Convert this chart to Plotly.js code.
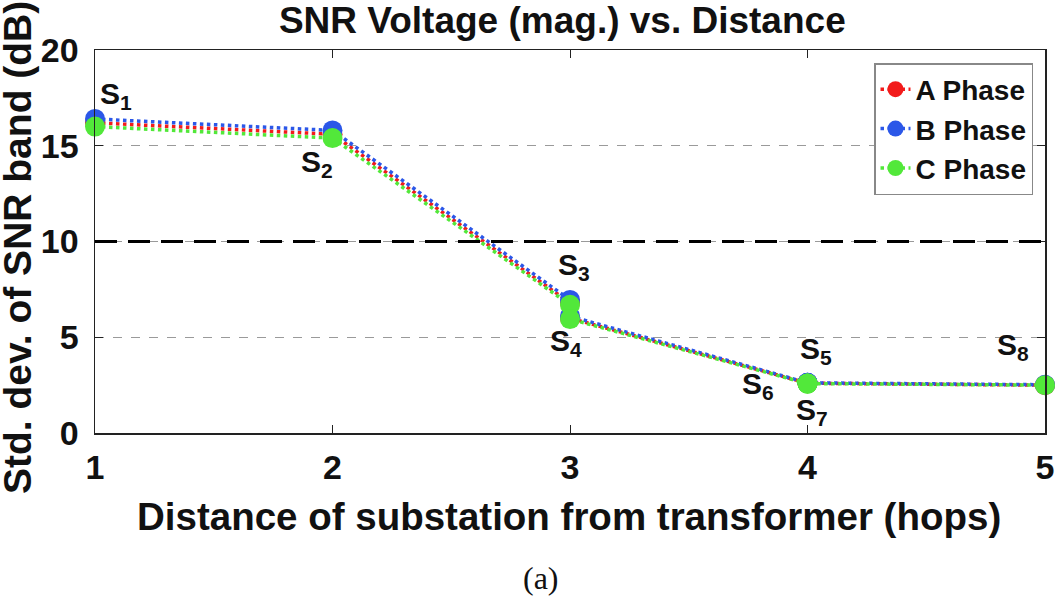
<!DOCTYPE html>
<html>
<head>
<meta charset="utf-8">
<script src="https://cdn.plot.ly/plotly-3.0.1.min.js"></script>
<style>html,body{margin:0;padding:0;background:#fff;}#chart{width:1063px;height:596px;}</style>
</head>
<body>
<div id="chart"></div>
<script>
// Data
const hops = [1, 2, 3, 3, 4, 4, 4, 5];
const stations = ['S1','S2','S3','S4','S5','S6','S7','S8'];
const phaseA = [16.2, 15.6, 6.8, 6.0, 2.6, 2.6, 2.6, 2.5];
const phaseB = [16.4, 15.8, 6.95, 6.1, 2.62, 2.62, 2.62, 2.52];
const phaseC = [16.0, 15.4, 6.7, 5.95, 2.58, 2.58, 2.58, 2.5];
const seriesNames = ['A Phase', 'B Phase', 'C Phase'];
const threshold = 10;
const xTicks = [1, 2, 3, 4, 5];
const yTicks = [0, 5, 10, 15, 20];

const colors = ['#f21b1b', '#2b57e8', '#52e83a'];
const FONT = 'Liberation Sans, Arial, sans-serif';
const series = [phaseA, phaseB, phaseC];

const traces = series.map((ys, i) => ({
  x: hops, y: ys, name: seriesNames[i], type: 'scatter', mode: 'lines+markers',
  line: {color: colors[i], width: 3.5, dash: 'dot'},
  marker: {color: colors[i], size: 20, symbol: 'circle'},
  cliponaxis: false
}));

// plot-area geometry in pixels (for placing free text)
const PL = 95, PR = 1045, PT = 50, PB = 433;
const px = (x) => (x - PL) / (PR - PL);
const py = (y) => (PB - y) / (PB - PT);

// label offsets (pixels, right/down) for station annotations
const labelOffsets = [[21,-27],[-16,29],[4,-36],[-4,24],[8,-33],[-50,2],[4,28],[-32,-39]];
const annotations = stations.map((s, i) => ({
  x: hops[i], y: phaseA[i], xref: 'x', yref: 'y', showarrow: false,
  text: s.charAt(0) + '<sub>' + s.slice(1) + '</sub>',
  xshift: labelOffsets[i][0], yshift: -labelOffsets[i][1],
  font: {family: FONT, size: 30, color: '#111', weight: 'bold'}
}));
annotations.push({
  x: px(541), y: py(578), xref: 'paper', yref: 'paper', xanchor: 'center', yanchor: 'middle',
  showarrow: false, text: '(a)', font: {family: 'Liberation Serif, DejaVu Serif, serif', size: 32, color: '#111'}
});
annotations.push({
  x: px(18), y: py(248), xref: 'paper', yref: 'paper', xanchor: 'center', yanchor: 'middle',
  showarrow: false, textangle: -90, text: 'Std. dev. of SNR band (dB)', borderpad: 0,
  font: {family: FONT, size: 39, color: '#111', weight: 'bold'}
});
annotations.push({
  x: px(569), y: py(516), xref: 'paper', yref: 'paper', xanchor: 'center', yanchor: 'middle',
  showarrow: false, text: 'Distance of substation from transformer (hops)',
  font: {family: FONT, size: 38.5, color: '#111', weight: 'bold'}
});

const layout = {
  width: 1063, height: 596,
  margin: {l: PL, r: 1063 - PR, t: PT, b: 596 - PB},
  paper_bgcolor: '#fff', plot_bgcolor: '#fff',
  title: {text: 'SNR Voltage (mag.) vs. Distance', font: {family: FONT, size: 37, color: '#111', weight: 'bold'},
          x: 0.529, xanchor: 'center', y: 0.966, yanchor: 'middle'},
  xaxis: {
    range: [1, 5], tickvals: xTicks, automargin: false,
    tickfont: {family: FONT, size: 34, color: '#111', weight: 'bold'},
    showline: true, linecolor: '#222', linewidth: 1.5, mirror: 'ticks',
    ticks: 'inside', ticklen: 8, tickcolor: '#222', showgrid: false, zeroline: false,
    ticklabelstandoff: 4
  },
  yaxis: {
    range: [0, 20], tickvals: yTicks, automargin: false,
    tickfont: {family: FONT, size: 34, color: '#111', weight: 'bold'},
    showline: true, linecolor: '#222', linewidth: 1.5, mirror: 'ticks',
    ticks: 'inside', ticklen: 8, tickcolor: '#222',
    showgrid: true, gridcolor: '#9a9a9a', griddash: 'dash', gridwidth: 1, zeroline: false,
    ticklabelstandoff: 8
  },
  shapes: [{
    type: 'line', xref: 'paper', yref: 'y', x0: 0, x1: 1, y0: threshold, y1: threshold,
    line: {color: '#000', width: 3, dash: '22px,11px'}
  }],
  legend: {
    x: px(1033), y: py(63), xanchor: 'right', yanchor: 'top',
    bgcolor: '#fff', bordercolor: '#888', borderwidth: 1.5,
    font: {family: FONT, size: 28, color: '#111', weight: 'bold'},
    itemwidth: 30, tracegroupgap: 0
  },
  annotations: annotations,
  showlegend: true
};

Plotly.newPlot('chart', traces, layout, {displayModeBar: false, staticPlot: true});
</script>
</body>
</html>
